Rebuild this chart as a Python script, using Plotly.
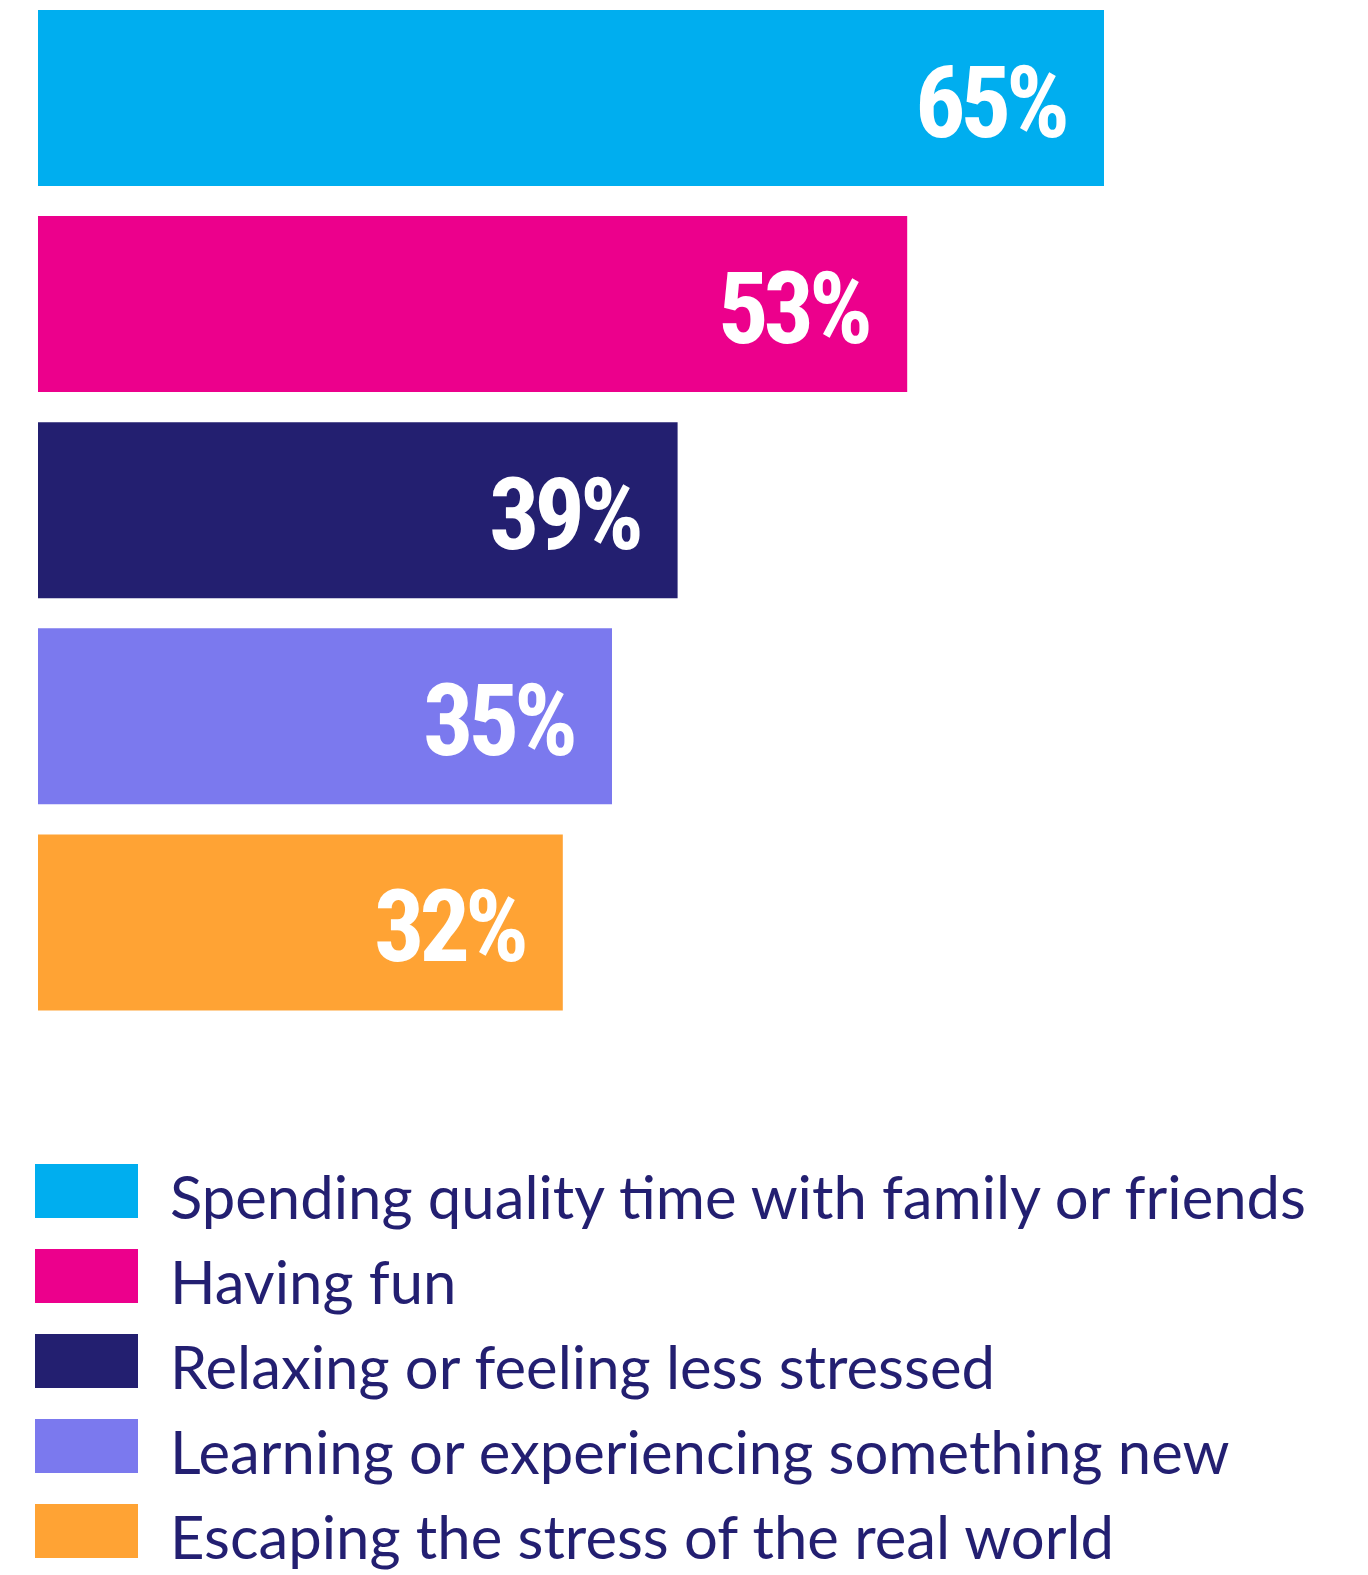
import plotly.graph_objects as go

categories = [
    "Spending quality time with family or friends",
    "Having fun",
    "Relaxing or feeling less stressed",
    "Learning or experiencing something new",
    "Escaping the stress of the real world",
]
values = [65, 53, 39, 35, 32]
labels = ["65%", "53%", "39%", "35%", "32%"]
colors = ["#00AEEF", "#EC008C", "#231F70", "#7B79EE", "#FFA334"]

W, H = 1368, 1575
TEXT = "#231F71"
OFF = 8  # page body margin

# layout geometry (pixels)
left_px = 38 - OFF
px_per_unit = 16.4
first_center = 98 - OFF
pitch = 206.1

fig = go.Figure()
fig.add_trace(go.Bar(
    x=values, y=list(range(len(categories))), orientation="h",
    marker=dict(color=colors, line=dict(width=0)),
    hoverinfo="skip", showlegend=False,
))

annotations = []
for i, (v, lab) in enumerate(zip(values, labels)):
    annotations.append(dict(
        x=v, y=i, xref="x", yref="y",
        text='<span style="letter-spacing:-5px">' + lab + '</span>',
        showarrow=False,
        xanchor="right", yanchor="middle", xshift=-36, yshift=-4,
        font=dict(family="Roboto Condensed, Roboto, sans-serif",
                  size=100, color="white", weight="bold"),
    ))

shapes = []
leg_top = 1164 - OFF
leg_pitch = 85
for i, (c, name) in enumerate(zip(colors, categories)):
    y0 = leg_top + i * leg_pitch
    shapes.append(dict(type="rect", xref="paper", yref="paper",
                       x0=(35 - OFF) / W, x1=(138 - OFF) / W, y0=1 - y0 / H, y1=1 - (y0 + 54) / H,
                       fillcolor=c, line=dict(width=0)))
    annotations.append(dict(
        x=(168 - OFF) / W, y=1 - (y0 + 32) / H, xref="paper", yref="paper",
        text=name, showarrow=False, xanchor="left", yanchor="middle",
        font=dict(family="Lato, Noto Sans, sans-serif", size=59.8, color=TEXT),
    ))

fig.update_layout(
    width=W, height=H,
    margin=dict(l=0, r=0, t=0, b=0),
    paper_bgcolor="white", plot_bgcolor="white",
    bargap=1 - 176 / pitch,
    xaxis=dict(range=[-left_px / px_per_unit, (W - left_px) / px_per_unit],
               visible=False, showgrid=False, zeroline=False),
    yaxis=dict(range=[(H - first_center) / pitch, -first_center / pitch],
               visible=False, showgrid=False, zeroline=False),
    shapes=shapes, annotations=annotations,
)

fig.write_html("out.html")
